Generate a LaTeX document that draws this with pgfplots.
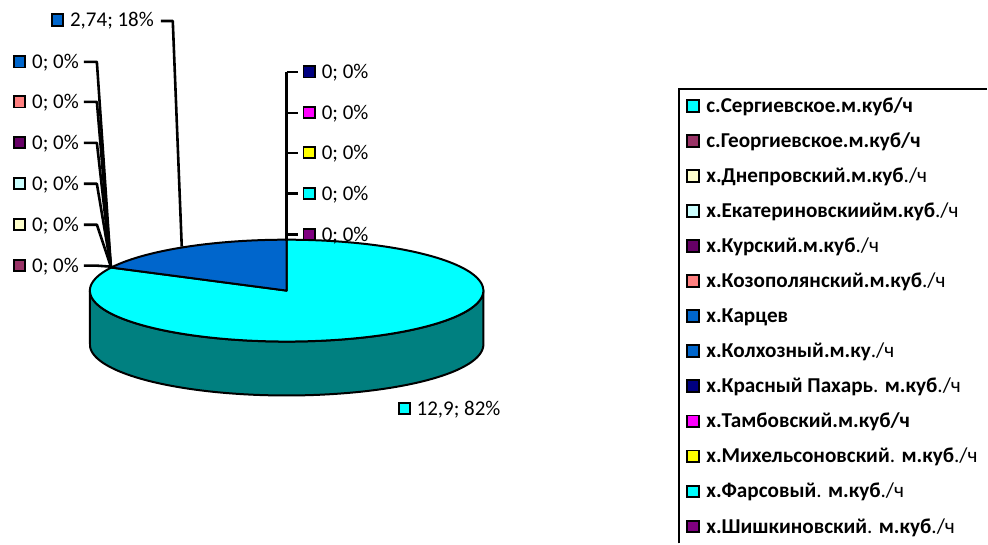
\documentclass[border=0pt]{standalone}
\usepackage{pgfplots}
\pgfplotsset{compat=1.18}
\usepackage{pgfplotstable}
\usepackage{fontspec}
\setmainfont{Carlito}

\definecolor{cSerg}{HTML}{00FFFF}
\definecolor{cSide}{HTML}{008080}
\definecolor{cGeor}{HTML}{993366}
\definecolor{cDnep}{HTML}{FFFFCC}
\definecolor{cEkat}{HTML}{CCFFFF}
\definecolor{cKurs}{HTML}{660066}
\definecolor{cKozo}{HTML}{FF8080}
\definecolor{cKart}{HTML}{0066CC}
\definecolor{cKolh}{HTML}{0066CC}
\definecolor{cKras}{HTML}{000080}
\definecolor{cTamb}{HTML}{FF00FF}
\definecolor{cMikh}{HTML}{FFFF00}
\definecolor{cFars}{HTML}{00FFFF}
\definecolor{cShis}{HTML}{800080}

% values, m3/h
\pgfplotstableread{
id value
1 12.9
2 0
3 0
4 0
5 0
6 0
7 0
8 2.74
9 0
10 0
11 0
12 0
13 0
}\datatable

\def\total{0}
\pgfplotstableforeachcolumnelement{value}\of\datatable\as\cell{%
  \pgfmathparse{\total+\cell}\xdef\total{\pgfmathresult}}
\pgfplotstablegetelem{0}{value}\of\datatable
\let\vA\pgfplotsretval
\pgfmathsetmacro\angA{360*\vA/\total}

\newcommand\labfont{\fontsize{21}{25}\selectfont}
\newcommand\legfont{\fontsize{21.2}{25}\selectfont}

\tikzset{sq/.style={draw=black, line width=1.9pt, minimum size=11.2pt, inner sep=0pt},
         lab/.style={anchor=base west, inner sep=0pt, font=\labfont},
         lsq/.style={draw=black, line width=1.9pt, minimum size=11.8pt, inner sep=0pt},
         leg/.style={anchor=base west, inner sep=0pt, font=\legfont},
         ll/.style={line width=2.6pt, line join=round}}

\begin{document}
\begin{tikzpicture}
\begin{axis}[at={(0pt,0pt)}, anchor=south west, scale only axis,
  width=988pt, height=544pt, xmin=0, xmax=988, ymin=0, ymax=544,
  y dir=reverse, hide axis, clip=false]
\path (axis cs:0,0) rectangle (axis cs:988,544);

% side of the pie
\addplot[fill=cSide, draw=black, line width=2pt, line join=round,
  domain=90:450, samples=181, variable=\t]
  ({287+197*sin(\t)}, {ifthenelse(\t<=270.001, 291-51*cos(\t), 345+51*cos(\t))}) -- cycle;

% top faces
\addplot[fill=cSerg, draw=black, line width=2pt, line join=round,
  domain=0:\angA, samples=150]
  ({287+197*sin(x)}, {291-51*cos(x)}) -- (axis cs:287,291) -- cycle;
\addplot[fill=cKolh, draw=black, line width=2pt, line join=round,
  domain=\angA:360, samples=40]
  ({287+197*sin(x)}, {291-51*cos(x)}) -- (axis cs:287,291) -- cycle;

% leader lines
\draw[ll] (axis cs:161,21) -- (axis cs:173,21) -- (axis cs:182,247);
\draw[ll] (axis cs:84,62) -- (axis cs:97,62) -- (axis cs:111,267);
\draw[ll] (axis cs:84,102) -- (axis cs:97,102) -- (axis cs:111,267);
\draw[ll] (axis cs:84,143) -- (axis cs:97,143) -- (axis cs:111,267);
\draw[ll] (axis cs:84,184) -- (axis cs:97,184) -- (axis cs:111,267);
\draw[ll] (axis cs:84,225) -- (axis cs:97,225) -- (axis cs:111,267);
\draw[ll] (axis cs:84,266) -- (axis cs:97,266) -- (axis cs:111,267);
\draw[ll] (axis cs:287,241) -- (axis cs:287,72);
\draw[ll] (axis cs:287,72) -- (axis cs:298,72);
\draw[ll] (axis cs:287,113) -- (axis cs:298,113);
\draw[ll] (axis cs:287,153) -- (axis cs:298,153);
\draw[ll] (axis cs:287,194) -- (axis cs:298,194);
\draw[ll] (axis cs:287,235) -- (axis cs:298,235);

% data labels
\node[sq, fill=cKolh] at (axis cs:57.5,20) {};
\node[lab] at (axis cs:70,27) {2,74; 18\%};
\node[sq, fill=cKart] at (axis cs:19.5,62) {};
\node[lab] at (axis cs:32,69) {0; 0\%};
\node[sq, fill=cKozo] at (axis cs:19.5,102) {};
\node[lab] at (axis cs:32,109) {0; 0\%};
\node[sq, fill=cKurs] at (axis cs:19.5,143) {};
\node[lab] at (axis cs:32,150) {0; 0\%};
\node[sq, fill=cEkat] at (axis cs:19.5,184) {};
\node[lab] at (axis cs:32,191) {0; 0\%};
\node[sq, fill=cDnep] at (axis cs:19.5,225) {};
\node[lab] at (axis cs:32,232) {0; 0\%};
\node[sq, fill=cGeor] at (axis cs:19.5,266) {};
\node[lab] at (axis cs:32,273) {0; 0\%};
\node[sq, fill=cKras] at (axis cs:309.5,72) {};
\node[lab] at (axis cs:322,79) {0; 0\%};
\node[sq, fill=cTamb] at (axis cs:309.5,113) {};
\node[lab] at (axis cs:322,120) {0; 0\%};
\node[sq, fill=cMikh] at (axis cs:309.5,153) {};
\node[lab] at (axis cs:322,160) {0; 0\%};
\node[sq, fill=cFars] at (axis cs:309.5,194) {};
\node[lab] at (axis cs:322,201) {0; 0\%};
\node[sq, fill=cShis] at (axis cs:309.5,235) {};
\node[lab] at (axis cs:322,242) {0; 0\%};
\node[sq, fill=cSerg] at (axis cs:405,409) {};
\node[lab] at (axis cs:417,416) {12,9; 82\%};

% legend
\draw[line width=2.6pt] (axis cs:680,544) -- (axis cs:680,89) -- (axis cs:988,89);
\node[lsq, fill=cSerg] at (axis cs:694,106) {};
\node[leg] at (axis cs:707,112.5) {\textbf{с.Сергиевское.м.куб/ч}};
\node[lsq, fill=cGeor] at (axis cs:694,141.1) {};
\node[leg] at (axis cs:707,147.6) {\textbf{с.Георгиевское.м.куб/ч}};
\node[lsq, fill=cDnep] at (axis cs:694,176.2) {};
\node[leg] at (axis cs:707,182.7) {\textbf{х.Днепровский.м.куб}./ч};
\node[lsq, fill=cEkat] at (axis cs:694,211.3) {};
\node[leg] at (axis cs:707,217.8) {\textbf{х.Екатериновскиийм.куб}./ч};
\node[lsq, fill=cKurs] at (axis cs:694,246.4) {};
\node[leg] at (axis cs:707,252.9) {\textbf{х.Курский.м.куб}./ч};
\node[lsq, fill=cKozo] at (axis cs:694,281.5) {};
\node[leg] at (axis cs:707,288) {\textbf{х.Козополянский.м.куб}./ч};
\node[lsq, fill=cKart] at (axis cs:694,316.6) {};
\node[leg] at (axis cs:707,323.1) {\textbf{х.Карцев}};
\node[lsq, fill=cKolh] at (axis cs:694,351.7) {};
\node[leg] at (axis cs:707,358.2) {\textbf{х.Колхозный.м.ку}./ч};
\node[lsq, fill=cKras] at (axis cs:694,386.8) {};
\node[leg] at (axis cs:707,393.3) {\textbf{х.Красный Пахарь}. \textbf{м.куб}./ч};
\node[lsq, fill=cTamb] at (axis cs:694,421.9) {};
\node[leg] at (axis cs:707,428.4) {\textbf{х.Тамбовский.м.куб/ч}};
\node[lsq, fill=cMikh] at (axis cs:694,457) {};
\node[leg] at (axis cs:707,463.5) {\textbf{х.Михельсоновский}. \textbf{м.куб}./ч};
\node[lsq, fill=cFars] at (axis cs:694,492.1) {};
\node[leg] at (axis cs:707,498.6) {\textbf{х.Фарсовый}. \textbf{м.куб}./ч};
\node[lsq, fill=cShis] at (axis cs:694,527.2) {};
\node[leg] at (axis cs:707,533.7) {\textbf{х.Шишкиновский}. \textbf{м.куб}./ч};
\end{axis}
\end{tikzpicture}
\end{document}
